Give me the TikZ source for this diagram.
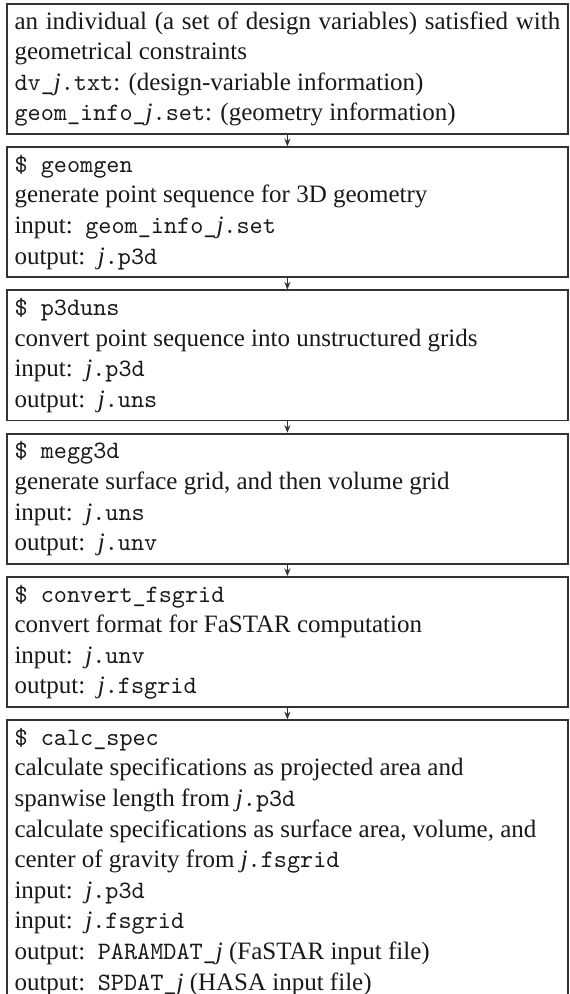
\documentclass[tikz,border=0pt]{standalone}
\usepackage{fontspec}
\setmainfont{Liberation Serif}
\usetikzlibrary{arrows.meta}
\newcommand{\jvar}{\textit{j}}
\newcommand{\inp}{input:\hspace{0.5em}}
\newcommand{\outp}{output:\hspace{0.5em}}
\begin{document}
\begin{tikzpicture}[x=0.392157pt,y=0.392157pt,
  stepbox/.style={draw=black!80, line width=0.7pt, text=black!90,
    text width=214pt, inner xsep=3pt, inner ysep=1.5pt, align=justify,
    anchor=north west, font=\fontsize{9.8pt}{12pt}\selectfont},
  flow/.style={draw=black!80, line width=0.45pt, -{Stealth[length=3pt,width=2.4pt]}}]
\useasboundingbox (0,0) rectangle (569,-994);
\clip (0,0) rectangle (569,-994);
\node[stepbox] (b1) at (6,-3) {\strut an individual (a set of design variables) satisfied with geometrical constraints\\
\texttt{dv\_}\jvar\texttt{.txt}: (design-variable information)\\
\texttt{geom\_info\_}\jvar\texttt{.set}: (geometry information)\strut};
\node[stepbox] (b2) at (6,-146.25) {\strut\texttt{\$ geomgen}\\
generate point sequence for 3D geometry\\
\inp\texttt{geom\_info\_}\jvar\texttt{.set}\\
\outp\jvar\texttt{.p3d}\strut};
\node[stepbox] (b3) at (6,-289.5) {\strut\texttt{\$ p3duns}\\
convert point sequence into unstructured grids\\
\inp\jvar\texttt{.p3d}\\
\outp\jvar\texttt{.uns}\strut};
\node[stepbox] (b4) at (6,-432.75) {\strut\texttt{\$ megg3d}\\
generate surface grid, and then volume grid\\
\inp\jvar\texttt{.uns}\\
\outp\jvar\texttt{.unv}\strut};
\node[stepbox] (b5) at (6,-576) {\strut\texttt{\$ convert\_fsgrid}\\
convert format for FaSTAR computation\\
\inp\jvar\texttt{.unv}\\
\outp\jvar\texttt{.fsgrid}\strut};
\node[stepbox] (b6) at (6,-719.25) {\strut\texttt{\$ calc\_spec}\\
calculate specifications as projected area and\\
spanwise length from \jvar\texttt{.p3d}\\
calculate specifications as surface area, volume, and\\
center of gravity from \jvar\texttt{.fsgrid}\\
\inp\jvar\texttt{.p3d}\\
\inp\jvar\texttt{.fsgrid}\\
\outp\texttt{PARAMDAT\_}\jvar{} (FaSTAR input file)\\
\outp\texttt{SPDAT\_}\jvar{} (HASA input file)\strut};
\draw[flow] (b1.south) -- (b2.north);
\draw[flow] (b2.south) -- (b3.north);
\draw[flow] (b3.south) -- (b4.north);
\draw[flow] (b4.south) -- (b5.north);
\draw[flow] (b5.south) -- (b6.north);
\end{tikzpicture}
\end{document}
